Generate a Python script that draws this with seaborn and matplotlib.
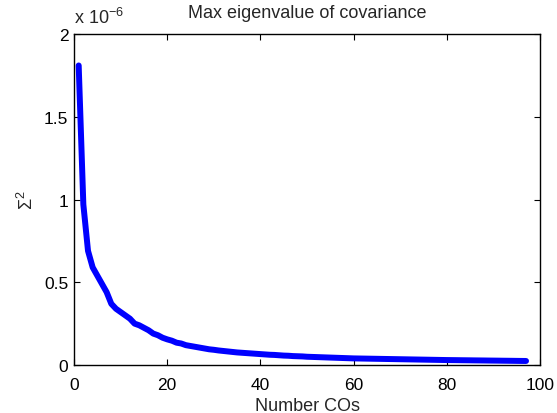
import matplotlib
matplotlib.use("Agg")
import matplotlib.pyplot as plt
import seaborn as sns
import pandas as pd

# Data (values in units of 1e-6)
num_cos = list(range(1, 98))
max_eig = [
    1.81, 0.97, 0.69, 0.59, 0.54, 0.49, 0.44, 0.37, 0.34, 0.32,
    0.30, 0.28, 0.25, 0.24, 0.225, 0.21, 0.19, 0.18, 0.165, 0.155,
    0.147, 0.135, 0.13, 0.12, 0.115, 0.11, 0.105, 0.10, 0.095, 0.092,
    0.088, 0.085, 0.082, 0.079, 0.076, 0.074, 0.072, 0.070, 0.068, 0.066,
    0.064, 0.062, 0.061, 0.059, 0.057, 0.056, 0.054, 0.053, 0.052, 0.050,
    0.049, 0.048, 0.047, 0.046, 0.045, 0.044, 0.043, 0.042, 0.041, 0.040,
    0.0395, 0.039, 0.0385, 0.038, 0.0375, 0.037, 0.0365, 0.036, 0.0355, 0.035,
    0.0345, 0.034, 0.0335, 0.033, 0.0325, 0.032, 0.0315, 0.031, 0.0305, 0.030,
    0.0297, 0.0294, 0.029, 0.0287, 0.0284, 0.028, 0.0277, 0.0274, 0.027, 0.0267,
    0.0264, 0.026, 0.0257, 0.0254, 0.025, 0.0247, 0.0244,
]
x_ticks = [0, 20, 40, 60, 80, 100]
y_ticks = [0, 0.5, 1, 1.5, 2]
y_tick_labels = ["0", "0.5", "1", "1.5", "2"]

sns.set_style("ticks")
plt.rcParams["font.family"] = ["Liberation Sans", "DejaVu Sans"]
plt.rcParams["mathtext.fontset"] = "custom"
plt.rcParams["mathtext.rm"] = "Liberation Sans"
plt.rcParams["mathtext.it"] = "Liberation Sans"
plt.rcParams["mathtext.bf"] = "Liberation Sans"

df = pd.DataFrame({"n": num_cos, "v": max_eig})

fig = plt.figure(figsize=(5.57, 4.14), dpi=100)
ax = fig.add_axes([0.1329, 0.1159, 0.8366, 0.7995])
sns.lineplot(data=df, x="n", y="v", ax=ax, color="#0000ff", linewidth=4.3)

ax.set_xlim(0, 100)
ax.set_ylim(0, 2)
ax.set_xticks(x_ticks)
ax.set_yticks(y_ticks)
ax.set_yticklabels(y_tick_labels)
for s in ax.spines.values():
    s.set_visible(True)
    s.set_linewidth(1.0)
    s.set_color("black")
ax.tick_params(direction="in", length=4, width=0.8, top=True, right=True,
               labelsize=12.5, colors="black")
ax.tick_params(axis="x", pad=8.5)
ax.tick_params(axis="y", pad=4)
ax.set_xlabel("Number COs", fontsize=13, labelpad=3.5)
ax.set_ylabel(r"$\mathregular{\Sigma^2}$", fontsize=13, labelpad=5)
ax.set_title("Max eigenvalue of covariance", fontsize=13, pad=12)
ax.text(0.0, 1.02, r"x 10$^{-6}$", transform=ax.transAxes, fontsize=13,
        ha="left", va="bottom")

fig.savefig("out.png", dpi=100)
